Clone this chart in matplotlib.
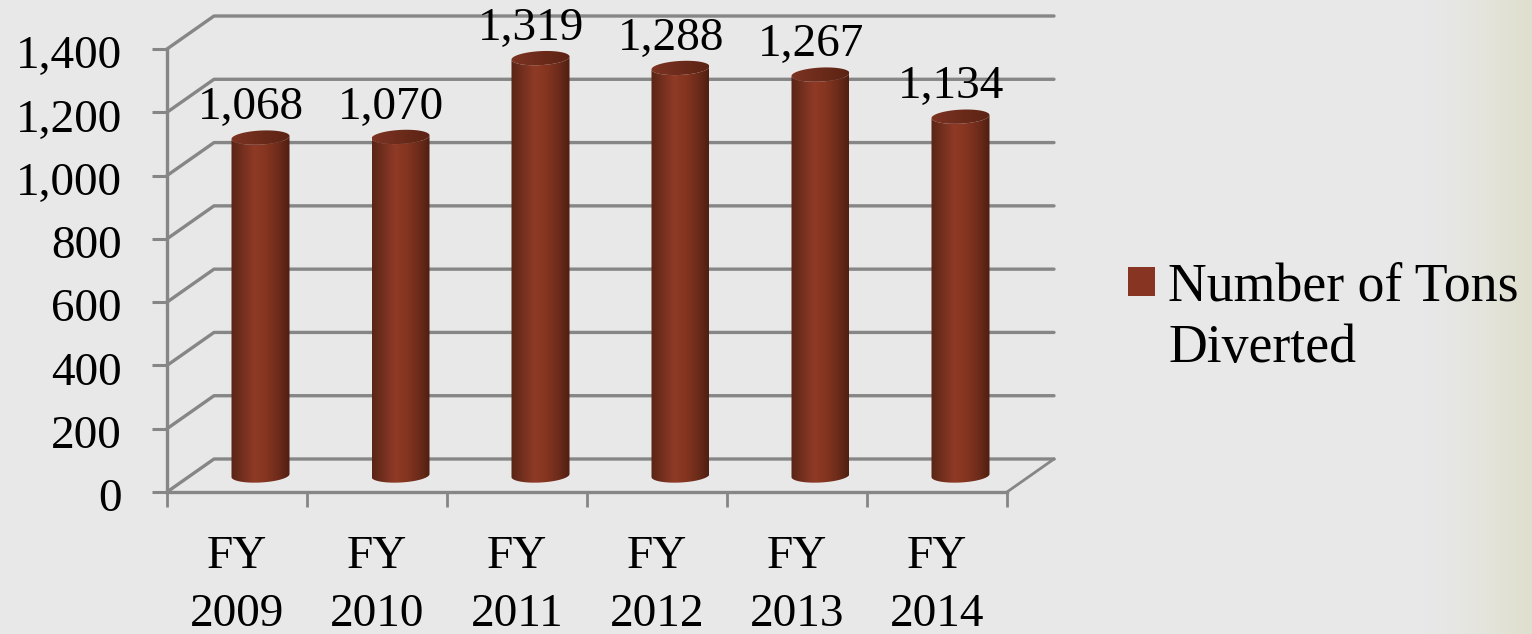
import matplotlib
matplotlib.use('Agg')
import matplotlib.pyplot as plt
from matplotlib.colors import LinearSegmentedColormap
from matplotlib.patches import Patch, PathPatch
from matplotlib.path import Path
from matplotlib.transforms import ScaledTranslation
import numpy as np

# Values
years = ['FY\n2009', 'FY\n2010', 'FY\n2011', 'FY\n2012', 'FY\n2013', 'FY\n2014']
tons = [1068, 1070, 1319, 1288, 1267, 1134]
y_ticks = [0, 200, 400, 600, 800, 1000, 1200, 1400]
legend_lines = ['Number of Tons', 'Diverted']

W, H = 1532, 634
GRID = '#868686'
bar_cmap = LinearSegmentedColormap.from_list(
    'cyl', ['#5a2415', '#74301f', '#8f3a26', '#85351f', '#6e2c1b', '#4f1f10'])
cap_cmap = LinearSegmentedColormap.from_list('cap', ['#7d3322', '#6c2b1b', '#5c2314'])

plt.rcParams['font.family'] = ['Liberation Serif', 'DejaVu Serif']

fig = plt.figure(figsize=(W / 100, H / 100), dpi=100, facecolor='#e8e8e8')

# paper background, fades to a pale yellow on the far right
bg = fig.add_axes([0, 0, 1, 1], zorder=0)
bg.axis('off')
fade = np.clip((np.linspace(0, 1, W) - 0.93) / 0.07, 0, 1) ** 1.5
rgb = np.outer(1 - fade, [232, 232, 232]) + np.outer(fade, [222, 223, 204])
bg.imshow(rgb[np.newaxis, :, :] / 255, aspect='auto')

# front plane of the 3D box: x 167-1007 px, y 492-49 px
ax = fig.add_axes([167 / W, 1 - 492 / H, 840 / W, 443 / H], zorder=1)
ax.patch.set_visible(False)
ax.set_xlim(0, len(years))
ax.set_ylim(0, 1400)

depth_x = 47 / 140
depth_y = 33 * 1400 / 443

# gridlines on the side and back walls
for v in y_ticks:
    ax.plot([0, depth_x, len(years) + depth_x], [v, v + depth_y, v + depth_y],
            color=GRID, lw=2.4, clip_on=False, zorder=1, solid_capstyle='round')
ax.plot([len(years), len(years) + depth_x], [0, depth_y], color=GRID, lw=2.0,
        clip_on=False, zorder=1)

# cylinders
half_w = 29 / 140
ry = 7 * 1400 / 443
tilt = 1.5 * 1400 / 443
t_low = np.linspace(np.pi, 2 * np.pi, 60)
t_up = np.linspace(0, np.pi, 60)
t_all = np.linspace(0, 2 * np.pi, 120)

for i, val in enumerate(tons):
    cx = i + 0.5 + depth_x / 2
    base = depth_y / 2
    top = base + val
    xs = np.r_[cx + half_w * np.cos(t_low), cx + half_w * np.cos(t_up)]
    ys = np.r_[base + ry * np.sin(t_low) + tilt * np.cos(t_low),
               top - ry * np.sin(t_up) + tilt * np.cos(t_up)]
    body = PathPatch(Path(np.c_[xs, ys]), transform=ax.transData, fc='none', ec='none')
    ax.add_patch(body)
    im = ax.imshow(np.linspace(0, 1, 256)[np.newaxis, :], cmap=bar_cmap, aspect='auto',
                   extent=[cx - half_w, cx + half_w, base - ry - tilt, top + ry + tilt],
                   zorder=3)
    im.set_clip_path(body)

    cap = PathPatch(Path(np.c_[cx + half_w * np.cos(t_all),
                               top + ry * np.sin(t_all) + tilt * np.cos(t_all)]),
                    transform=ax.transData, fc='none', ec='none')
    ax.add_patch(cap)
    im2 = ax.imshow(np.linspace(0, 1, 256)[np.newaxis, :], cmap=cap_cmap, aspect='auto',
                    extent=[cx - half_w, cx + half_w, top - ry - tilt, top + ry + tilt],
                    zorder=4)
    im2.set_clip_path(cap)

    ax.annotate(f'{val:,}', (cx, top), xytext=(-7, 6), textcoords='offset points',
                ha='center', va='bottom', fontsize=34, color='black', zorder=5,
                annotation_clip=False)

ax.set_xlim(0, len(years))
ax.set_ylim(0, 1400)

for side in ['top', 'right']:
    ax.spines[side].set_visible(False)
for side in ['left', 'bottom']:
    ax.spines[side].set_color(GRID)
    ax.spines[side].set_linewidth(2.4)

ax.set_yticks(y_ticks)
ax.set_yticklabels([f'{v:,}' for v in y_ticks])
ax.set_xticks(np.arange(len(years) + 1))
ax.set_xticklabels([])
ax.set_xticks(np.arange(len(years)) + 0.5, labels=years, minor=True)
ax.tick_params(axis='y', length=11, width=2.2, color=GRID, labelsize=34, pad=21.5)
ax.tick_params(axis='x', which='major', length=11, width=2.0, color=GRID)
ax.tick_params(axis='x', which='minor', length=0, labelsize=34, pad=31)
for lab in ax.get_xticklabels(minor=True):
    lab.set_linespacing(1.5)
for lab in ax.get_yticklabels():
    lab.set_transform(lab.get_transform() + ScaledTranslation(0, -3 / 100, fig.dpi_scale_trans))

handles = [Patch(facecolor='#873423', edgecolor='none'),
           Patch(facecolor='none', edgecolor='none')]
leg = fig.legend(handles, legend_lines, loc='upper left', frameon=False, fontsize=38.7,
                 bbox_to_anchor=(1128 / W, 1 - 262 / H), borderpad=0, borderaxespad=0,
                 handlelength=0.5, handleheight=0.46, handletextpad=0.25, labelspacing=0.2)

fig.savefig('out.png', dpi=100, facecolor=fig.get_facecolor())
